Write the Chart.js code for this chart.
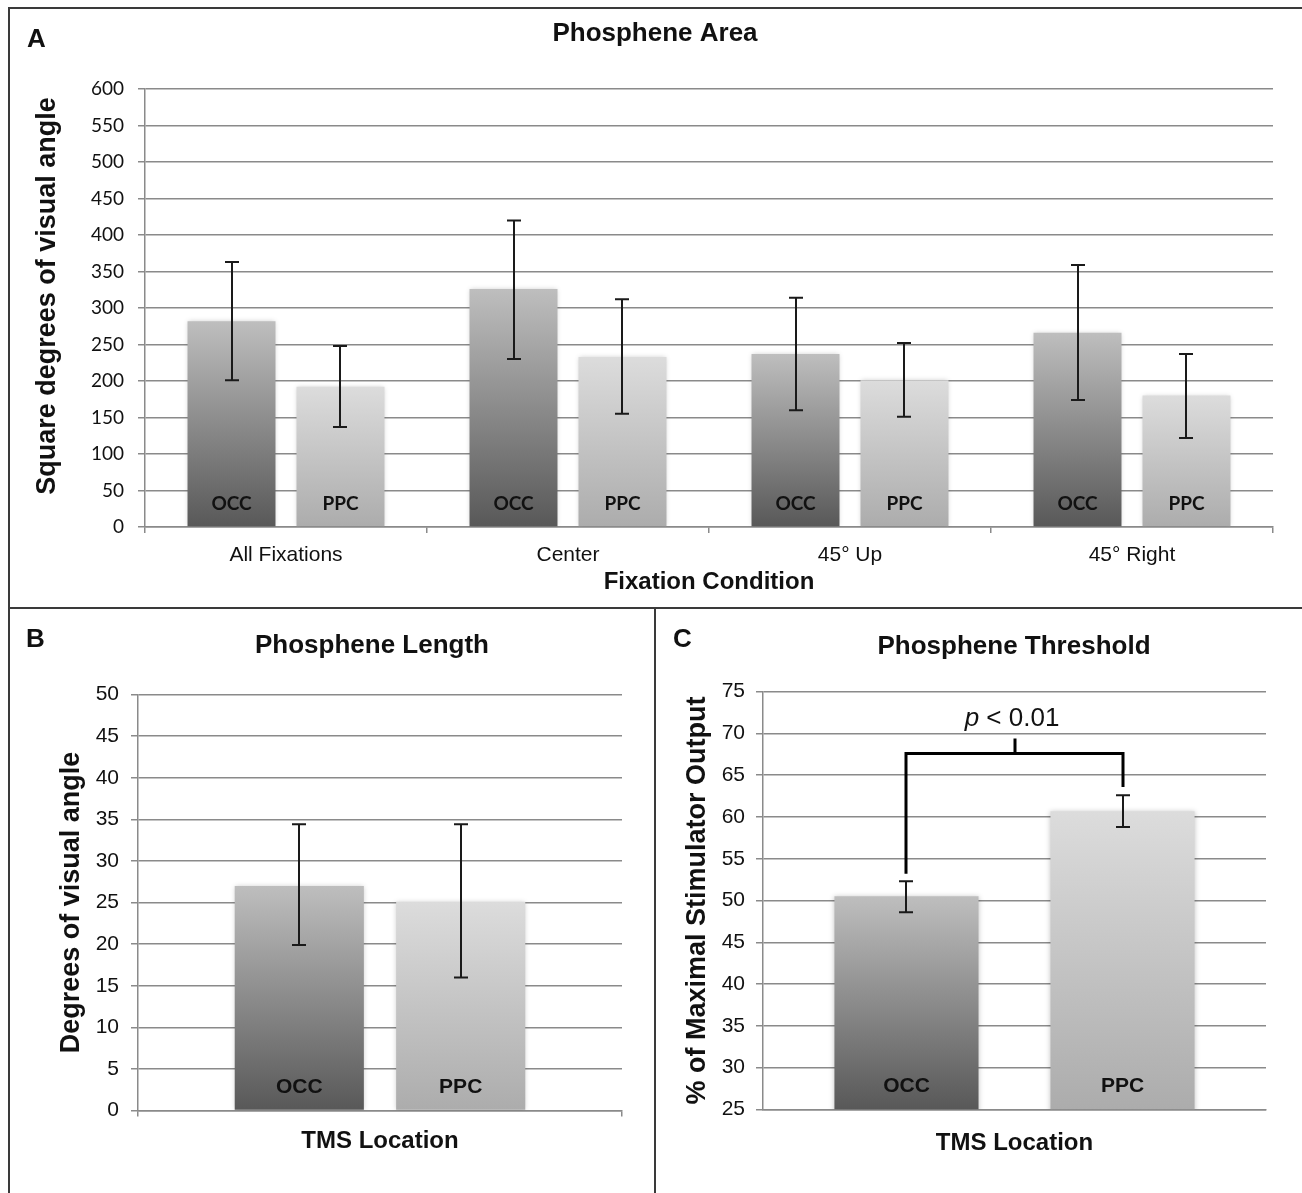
<!DOCTYPE html>
<html>
<head>
<meta charset="utf-8">
<title>Phosphene area, length and threshold</title>
<script src="https://cdn.jsdelivr.net/npm/chart.js@4.4.1/dist/chart.umd.min.js"></script>
<style>
  body { margin: 0; background: #fff; }
  #fig { position: relative; width: 1302px; height: 1193px; overflow: hidden; background: #fff; }
  #fig canvas { position: absolute; }
  .rule { position: absolute; background: #3a3a3a; }
</style>
</head>
<body>
<div id="fig">
  <canvas id="areaChart" width="1290" height="595" style="left:10px;top:10px"></canvas>
  <canvas id="lengthChart" width="644" height="583" style="left:10px;top:610px"></canvas>
  <canvas id="thresholdChart" width="645" height="583" style="left:657px;top:610px"></canvas>
  <div class="rule" style="left:8px;top:7px;width:1294px;height:2px"></div>
  <div class="rule" style="left:8px;top:7px;width:2px;height:1186px"></div>
  <div class="rule" style="left:8px;top:607px;width:1294px;height:2px"></div>
  <div class="rule" style="left:654px;top:607px;width:2px;height:586px"></div>
</div>
<script>
// ---- data ----
const fixationLabels = ['All Fixations', 'Center', '45° Up', '45° Right'];
const areaOCC = [282, 326, 237, 266];
const areaOCCLow = [201, 230, 160, 174];
const areaOCCHigh = [363, 420, 314, 359];
const areaPPC = [192, 233, 201, 180];
const areaPPCLow = [137, 155, 151, 122];
const areaPPCHigh = [248, 312, 252, 237];

const locationLabels = [''];
const lengthOCC = [27.0];
const lengthOCCLow = [19.9];
const lengthOCCHigh = [34.4];
const lengthPPC = [25.1];
const lengthPPCLow = [16.0];
const lengthPPCHigh = [34.4];

const thresholdOCC = [50.5];
const thresholdOCCLow = [48.6];
const thresholdOCCHigh = [52.3];
const thresholdPPC = [60.7];
const thresholdPPCLow = [58.8];
const thresholdPPCHigh = [62.6];

// significance bracket: left end, right end, bar level, centre tip
const bracketEnds = [53.2, 63.6];
const bracketLevel = 67.6;
const bracketTip = 69.4;
const pLabel = ['p', ' < 0.01'];

// ---- styling ----
const gridColor = '#8a8a8a';
const occShade = ['#bebebe', '#585858'];   // top, bottom
const ppcShade = ['#dcdcdc', '#acacac'];
const inkColor = '#111';

Chart.defaults.font.family = '"Liberation Sans", Arial, sans-serif';
Chart.defaults.color = inkColor;

// vertical gradient from the top of each bar down to the axis floor
function barShade(colors) {
    return function (context) {
        const chart = context.chart;
        const y = chart.scales.y;
        if (!chart.chartArea || !y) return colors[1];
        const top = y.getPixelForValue(context.raw);
        const bottom = y.getPixelForValue(y.min);
        if (!isFinite(top) || !isFinite(bottom) || top === bottom) return colors[1];
        const g = chart.ctx.createLinearGradient(0, top, 0, bottom);
        g.addColorStop(0, colors[0]);
        g.addColorStop(1, colors[1]);
        return g;
    };
}

const barShadow = {
    id: 'barShadow',
    beforeDatasetDraw(chart) {
        const ctx = chart.ctx;
        ctx.save();
        ctx.shadowColor = 'rgba(0,0,0,0.22)';
        ctx.shadowBlur = 5;
    },
    afterDatasetDraw(chart) {
        chart.ctx.restore();
    }
};

const barNames = {
    id: 'barNames',
    afterDatasetsDraw(chart, args, opts) {
        const ctx = chart.ctx;
        const y = chart.scales.y;
        const baseY = y.getPixelForValue(y.min) - opts.lift;
        ctx.save();
        ctx.font = opts.font;
        ctx.fillStyle = inkColor;
        ctx.textAlign = 'center';
        ctx.textBaseline = 'alphabetic';
        chart.data.datasets.forEach((ds, di) => {
            chart.getDatasetMeta(di).data.forEach(bar => ctx.fillText(ds.label, bar.x, baseY));
        });
        ctx.restore();
    }
};

const errorBars = {
    id: 'errorBars',
    afterDatasetsDraw(chart) {
        const ctx = chart.ctx;
        const y = chart.scales.y;
        ctx.save();
        ctx.strokeStyle = '#1a1a1a';
        ctx.lineWidth = 2;
        chart.data.datasets.forEach((ds, di) => {
            if (!ds.errLow) return;
            chart.getDatasetMeta(di).data.forEach((bar, i) => {
                const x = Math.round(bar.x);
                const top = y.getPixelForValue(ds.errHigh[i]);
                const bottom = y.getPixelForValue(ds.errLow[i]);
                ctx.beginPath();
                ctx.moveTo(x, top); ctx.lineTo(x, bottom);
                ctx.moveTo(x - 7, top); ctx.lineTo(x + 7, top);
                ctx.moveTo(x - 7, bottom); ctx.lineTo(x + 7, bottom);
                ctx.stroke();
            });
        });
        ctx.restore();
    }
};

// panel letter, heading and (optionally) a hand-placed y title
const panelHeading = {
    id: 'panelHeading',
    afterDraw(chart, args, opts) {
        const ctx = chart.ctx;
        ctx.save();
        ctx.fillStyle = inkColor;
        ctx.textBaseline = 'alphabetic';
        ctx.font = 'bold 26px "Liberation Sans"';
        ctx.textAlign = 'left';
        ctx.fillText(opts.letter, opts.letterX, opts.letterY);
        ctx.textAlign = 'center';
        ctx.fillText(opts.title, opts.titleX, opts.titleY);
        if (opts.yTitle) {
            ctx.translate(opts.yTitleX, opts.yTitleY);
            ctx.rotate(-Math.PI / 2);
            ctx.textBaseline = 'middle';
            ctx.font = 'bold 27px "Liberation Sans"';
            ctx.fillText(opts.yTitle, 0, 0);
        }
        ctx.restore();
    }
};

const sigBracket = {
    id: 'sigBracket',
    afterDatasetsDraw(chart) {
        const ctx = chart.ctx;
        const y = chart.scales.y;
        const left = Math.round(chart.getDatasetMeta(0).data[0].x);
        const right = Math.round(chart.getDatasetMeta(1).data[0].x);
        const mid = Math.round((left + right) / 2);
        const level = y.getPixelForValue(bracketLevel);
        const tip = y.getPixelForValue(bracketTip);
        ctx.save();
        ctx.strokeStyle = '#000';
        ctx.lineWidth = 3;
        ctx.lineJoin = 'miter';
        ctx.beginPath();
        ctx.moveTo(left, y.getPixelForValue(bracketEnds[0]));
        ctx.lineTo(left, level);
        ctx.lineTo(right, level);
        ctx.lineTo(right, y.getPixelForValue(bracketEnds[1]));
        ctx.moveTo(mid, level);
        ctx.lineTo(mid, tip);
        ctx.stroke();

        ctx.fillStyle = inkColor;
        ctx.textBaseline = 'alphabetic';
        ctx.textAlign = 'left';
        ctx.font = 'italic 26px "Liberation Sans"';
        const w1 = ctx.measureText(pLabel[0]).width;
        ctx.font = '26px "Liberation Sans"';
        const w2 = ctx.measureText(pLabel[1]).width;
        const x0 = mid - 3 - (w1 + w2) / 2;
        const ty = tip - 12;
        ctx.font = 'italic 26px "Liberation Sans"';
        ctx.fillText(pLabel[0], x0, ty);
        ctx.font = '26px "Liberation Sans"';
        ctx.fillText(pLabel[1], x0 + w1, ty);
        ctx.restore();
    }
};

function yAxis(min, max, step, tickFont, tickPad, title, titlePad, width) {
    return {
        min: min,
        max: max,
        ticks: { stepSize: step, color: inkColor, font: tickFont, padding: tickPad },
        grid: { color: gridColor, lineWidth: 1.5, tickLength: 7 },
        border: { color: gridColor, width: 1.5 },
        title: { display: !!title, text: title, color: inkColor, font: { size: 27, weight: 'bold' }, padding: { top: titlePad, bottom: 0 } },
        afterFit: s => { s.width = width; }
    };
}

function xAxis(tickFont, tickLen, title, titlePad, height) {
    return {
        grid: { drawOnChartArea: false, offset: true, drawTicks: tickLen > 0, tickLength: tickLen, color: gridColor, lineWidth: 1.5 },
        border: { color: gridColor, width: 1.5 },
        ticks: { color: inkColor, font: tickFont, padding: 10 },
        title: { display: true, text: title, color: inkColor, font: { size: 24, weight: 'bold' }, padding: { top: 0, bottom: titlePad } },
        afterFit: s => { s.height = height; }
    };
}

function dataset(label, values, low, high, shade, cat, bar) {
    return {
        label: label,
        data: values,
        errLow: low,
        errHigh: high,
        backgroundColor: barShade(shade),
        borderWidth: 0,
        categoryPercentage: cat,
        barPercentage: bar
    };
}

const basePlugins = { legend: { display: false }, tooltip: { enabled: false }, title: { display: false } };

// A: phosphene area
new Chart(document.getElementById('areaChart'), {
    type: 'bar',
    data: {
        labels: fixationLabels,
        datasets: [
            dataset('OCC', areaOCC, areaOCCLow, areaOCCHigh, occShade, 0.773, 0.807),
            dataset('PPC', areaPPC, areaPPCLow, areaPPCHigh, ppcShade, 0.773, 0.807)
        ]
    },
    options: {
        responsive: false,
        animation: false,
        layout: { padding: { left: 0, right: 27, top: 79, bottom: 0 } },
        plugins: Object.assign({}, basePlugins, {
            panelHeading: {
                letter: 'A', letterX: 17, letterY: 37, title: 'Phosphene Area', titleX: 645, titleY: 31,
                yTitle: 'Square degrees of visual angle', yTitleX: 38, yTitleY: 286
            },
            barNames: { font: 'bold 19px Lato', lift: 17 }
        }),
        scales: {
            x: xAxis({ size: 21 }, 6, 'Fixation Condition', 8.6, 78),
            y: yAxis(0, 600, 50, { family: 'Lato', size: 19 }, 14, '', 0, 135)
        }
    },
    plugins: [barShadow, barNames, errorBars, panelHeading]
});

// B: phosphene length
new Chart(document.getElementById('lengthChart'), {
    type: 'bar',
    data: {
        labels: locationLabels,
        datasets: [
            dataset('OCC', lengthOCC, lengthOCCLow, lengthOCCHigh, occShade, 0.667, 0.8),
            dataset('PPC', lengthPPC, lengthPPCLow, lengthPPCHigh, ppcShade, 0.667, 0.8)
        ]
    },
    options: {
        responsive: false,
        animation: false,
        layout: { padding: { left: 0, right: 32, top: 84.5, bottom: 0 } },
        plugins: Object.assign({}, basePlugins, {
            panelHeading: { letter: 'B', letterX: 16, letterY: 37, title: 'Phosphene Length', titleX: 362, titleY: 43 },
            barNames: { font: 'bold 21px "Liberation Sans"', lift: 18 }
        }),
        scales: {
            x: xAxis({ size: 21 }, 6, 'TMS Location', 37.6, 82.4),
            y: yAxis(0, 50, 5, { size: 21 }, 12, 'Degrees of visual angle', 45.3, 128)
        }
    },
    plugins: [barShadow, barNames, errorBars, panelHeading]
});

// C: phosphene threshold
new Chart(document.getElementById('thresholdChart'), {
    type: 'bar',
    data: {
        labels: locationLabels,
        datasets: [
            dataset('OCC', thresholdOCC, thresholdOCCLow, thresholdOCCHigh, occShade, 0.859, 0.667),
            dataset('PPC', thresholdPPC, thresholdPPCLow, thresholdPPCHigh, ppcShade, 0.859, 0.667)
        ]
    },
    options: {
        responsive: false,
        animation: false,
        layout: { padding: { left: 0, right: 36, top: 81.7, bottom: 0 } },
        plugins: Object.assign({}, basePlugins, {
            panelHeading: { letter: 'C', letterX: 16, letterY: 37, title: 'Phosphene Threshold', titleX: 357, titleY: 44 },
            barNames: { font: 'bold 21px "Liberation Sans"', lift: 17 }
        }),
        scales: {
            x: xAxis({ size: 21 }, 0, 'TMS Location', 35.1, 83.7),
            y: yAxis(25, 75, 5, { size: 21 }, 11, '% of Maximal Stimulator Output', 24.3, 106)
        }
    },
    plugins: [barShadow, barNames, errorBars, sigBracket, panelHeading]
});
</script>
</body>
</html>
